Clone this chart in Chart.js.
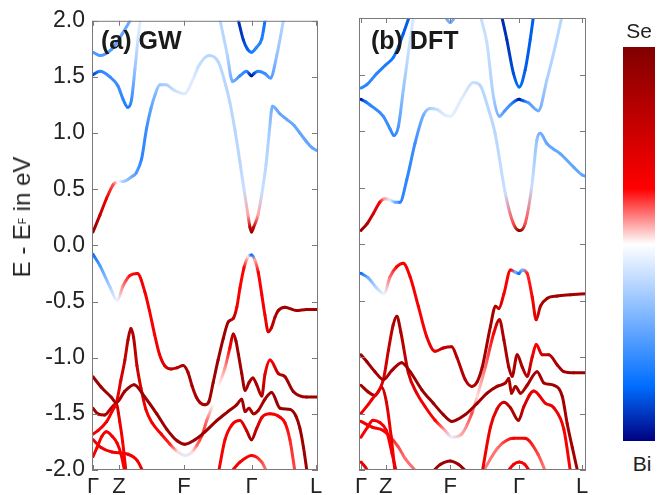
<!DOCTYPE html>
<html>
<head>
<meta charset="utf-8">
<script src="https://cdn.jsdelivr.net/npm/chart.js@4/dist/chart.umd.min.js"></script>
<style>
  body { margin: 0; background: #fff; width: 667px; height: 495px; position: relative; overflow: hidden;
         font-family: 'Liberation Sans', Arial, Helvetica, sans-serif; color: #222; }
  canvas { position: absolute; top: 0; }
  #gw { left: 0; }
  #dft { left: 330px; }
  .tag { position: absolute; top: 28px; font-weight: bold; font-size: 25px; line-height: 1; color: #1a1a1a; white-space: nowrap; }
  #ytitle { position: absolute; left: 22px; top: 217px; transform: translate(-50%, -50%) rotate(-90deg);
            font-size: 24px; line-height: 1; white-space: nowrap; }
  #ytitle sub { font-size: 10px; vertical-align: 4px; }
  #cbar { position: absolute; left: 623px; top: 47px; width: 32px; height: 394px; }
  .cblab { position: absolute; font-size: 21px; line-height: 1; transform: translateX(-50%); }
</style>
</head>
<body>
<canvas id="gw" width="330" height="495"></canvas>
<canvas id="dft" width="270" height="495"></canvas>
<div id="ytitle">E - E<sub>F</sub> in eV</div>
<div class="tag" style="left:101px">(a) GW</div>
<div class="tag" style="left:371px">(b) DFT</div>
<div id="cbar"></div>
<div class="cblab" style="left:639px; top:20px">Se</div>
<div class="cblab" style="left:642px; top:453px">Bi</div>
<script>
// k-path labels and positions (fraction of the Γ-L path length)
const kLabels = ['Γ', 'Z', 'F', 'Γ', 'L'];
const kTicksGW = [0, 0.117, 0.408, 0.711, 1];
const kTicksDFT = [0, 0.112, 0.403, 0.715, 1];

// projection colour map: 0 = Bi, 1 = Se
const cmapStops = [
  [0.00, [0, 0, 128]],
  [0.14, [0, 110, 255]],
  [0.50, [255, 255, 255]],
  [0.64, [255, 0, 0]],
  [1.00, [128, 0, 0]]
];

// bands as [k, E (eV), Se weight]
// ---- (a) GW ----
const gwC1 = [[0.000,0.12,0.95],[0.031,0.27,0.8],[0.061,0.42,0.7],[0.090,0.54,0.6],[0.112,0.57,0.5],[0.135,0.57,0.38],
  [0.173,0.61,0.3],[0.195,0.65,0.25],[0.218,0.77,0.2],[0.240,1.04,0.22],[0.260,1.22,0.27],[0.278,1.34,0.32],[0.300,1.43,0.36],
  [0.327,1.43,0.38],[0.365,1.38,0.42],[0.410,1.35,0.45],[0.449,1.48,0.45],[0.472,1.59,0.42],[0.520,1.69,0.4],[0.563,1.63,0.4],
  [0.596,1.42,0.4],[0.614,1.27,0.4],[0.637,1.02,0.4],[0.659,0.74,0.4],[0.677,0.50,0.42],[0.695,0.27,0.55],[0.704,0.16,0.8],
  [0.711,0.12,0.95],[0.720,0.16,0.8],[0.740,0.27,0.55],[0.758,0.47,0.42],[0.776,0.72,0.4],[0.789,0.98,0.38],[0.805,1.24,0.3],
  [0.839,1.17,0.28],[0.870,1.12,0.28],[0.901,1.07,0.28],[0.928,1.00,0.28],[0.955,0.93,0.28],[0.982,0.87,0.28],[1.009,0.84,0.28]];
const gwC2 = [[0.000,1.52,0.08],[0.031,1.55,0.2],[0.076,1.50,0.22],[0.112,1.42,0.22],[0.135,1.30,0.2],[0.156,1.23,0.18],
  [0.173,1.30,0.22],[0.188,1.57,0.35],[0.203,1.86,0.44],[0.215,2.05,0.46]];
const gwC3 = [[0.000,1.72,0.25],[0.031,1.69,0.25],[0.085,1.75,0.25],[0.130,1.88,0.28],[0.180,2.05,0.3]];
const gwC4 = [[0.565,2.05,0.4],[0.600,1.72,0.4],[0.626,1.46,0.3],[0.659,1.51,0.22],[0.689,1.55,0.2],[0.700,1.53,0.1],
  [0.711,1.51,0.02],[0.722,1.53,0.1],[0.740,1.55,0.2],[0.771,1.53,0.22],[0.796,1.49,0.25],[0.824,1.69,0.35],[0.858,2.05,0.4]];
const gwC5 = [[0.650,2.02,0.05],[0.674,1.83,0.08],[0.692,1.75,0.12],[0.711,1.72,0.18],[0.732,1.76,0.2],[0.757,1.84,0.18],[0.773,2.02,0.15]];

const gwV1 = [[0.000,-0.08,0.15],[0.031,-0.18,0.25],[0.076,-0.37,0.38],[0.109,-0.49,0.47],[0.135,-0.36,0.57],[0.165,-0.27,0.63],
  [0.199,-0.25,0.66],[0.232,-0.41,0.66],[0.253,-0.58,0.66],[0.277,-0.80,0.66],[0.298,-0.97,0.68],[0.321,-1.07,0.74],[0.351,-1.10,0.82],
  [0.377,-1.09,0.85],[0.404,-1.07,0.87],[0.426,-1.13,0.88],[0.444,-1.25,0.88],[0.463,-1.35,0.88],[0.480,-1.40,0.88],[0.502,-1.42,0.88],
  [0.520,-1.39,0.9],[0.539,-1.22,0.9],[0.561,-1.02,0.92],[0.584,-0.83,0.92],[0.607,-0.68,0.9],[0.629,-0.65,0.82],[0.645,-0.55,0.68],
  [0.659,-0.38,0.65],[0.677,-0.20,0.64],[0.696,-0.10,0.52],[0.711,-0.085,0.15],[0.726,-0.13,0.55],[0.741,-0.24,0.64],[0.757,-0.44,0.65],
  [0.771,-0.62,0.66],[0.786,-0.77,0.72],[0.801,-0.73,0.82],[0.816,-0.64,0.86],[0.831,-0.58,0.9],[0.861,-0.55,0.9],[0.913,-0.58,0.9],
  [0.958,-0.57,0.9],[1.009,-0.57,0.9]];
const gwV2 = [[0.000,-1.17,0.92],[0.036,-1.26,0.92],[0.081,-1.35,0.9],[0.105,-1.40,0.88],[0.142,-1.30,0.9],[0.184,-1.24,0.92],
  [0.232,-1.35,0.92],[0.286,-1.50,0.92],[0.332,-1.64,0.92],[0.377,-1.74,0.92],[0.411,-1.77,0.92],[0.457,-1.73,0.92],[0.502,-1.66,0.92],
  [0.555,-1.56,0.92],[0.605,-1.48,0.92],[0.644,-1.42,0.92],[0.667,-1.37,0.9],[0.682,-1.48,0.88],[0.700,-1.45,0.88],[0.719,-1.50,0.88],
  [0.741,-1.47,0.88],[0.771,-1.37,0.9],[0.801,-1.31,0.92],[0.839,-1.45,0.92],[0.883,-1.46,0.92],[0.910,-1.52,0.92],[0.928,-1.63,0.92],
  [0.944,-1.80,0.92],[0.960,-2.02,0.9]];
const gwV3 = [[0.000,-1.68,0.68],[0.022,-1.65,0.66],[0.061,-1.57,0.66],[0.085,-1.48,0.66],[0.105,-1.40,0.68],[0.125,-1.20,0.74],
  [0.143,-1.02,0.8],[0.157,-0.84,0.85],[0.170,-0.74,0.88],[0.182,-0.82,0.86],[0.197,-1.07,0.8],[0.215,-1.27,0.74],[0.237,-1.46,0.68],
  [0.265,-1.58,0.66],[0.306,-1.68,0.65],[0.345,-1.77,0.62],[0.381,-1.84,0.52],[0.413,-1.87,0.45],[0.444,-1.84,0.52],[0.466,-1.78,0.58],
  [0.489,-1.69,0.62],[0.510,-1.56,0.58],[0.539,-1.41,0.5],[0.562,-1.26,0.5],[0.592,-1.09,0.56],[0.614,-0.91,0.64],[0.629,-0.79,0.85],
  [0.641,-0.85,0.9],[0.652,-0.97,0.9],[0.667,-1.14,0.9],[0.682,-1.29,0.9],[0.700,-1.22,0.88],[0.717,-1.18,0.88],[0.734,-1.24,0.88],
  [0.757,-1.34,0.86],[0.771,-1.15,0.74],[0.794,-1.02,0.64],[0.831,-1.14,0.82],[0.861,-1.17,0.88],[0.898,-1.30,0.92],[0.958,-1.35,0.92],
  [1.009,-1.35,0.92]];
const gwV4 = [[0.000,-1.45,0.9],[0.022,-1.50,0.9],[0.052,-1.51,0.88],[0.081,-1.45,0.85],[0.104,-1.41,0.8],[0.120,-1.57,0.7],
  [0.133,-1.75,0.66],[0.148,-2.02,0.66]];
const gwV5 = [[0.000,-1.88,0.66],[0.018,-1.80,0.66],[0.040,-1.70,0.66],[0.060,-1.66,0.66],[0.086,-1.70,0.66],[0.108,-1.76,0.66],
  [0.126,-1.86,0.66],[0.143,-2.02,0.66]];
const gwV6 = [[0.000,-1.73,0.68],[0.036,-1.80,0.68],[0.085,-1.84,0.68],[0.157,-1.86,0.68],[0.200,-1.92,0.68],[0.225,-2.02,0.68]];
const gwV7 = [[0.563,-2.02,0.66],[0.592,-1.73,0.66],[0.622,-1.60,0.66],[0.659,-1.56,0.7],[0.689,-1.65,0.78],[0.711,-1.73,0.92],
  [0.734,-1.63,0.78],[0.758,-1.53,0.7],[0.794,-1.50,0.66],[0.839,-1.53,0.66],[0.861,-1.58,0.65],[0.883,-1.73,0.62],[0.906,-2.02,0.6]];
const gwV8 = [[0.618,-2.02,0.66],[0.659,-1.93,0.66],[0.711,-1.87,0.66],[0.757,-1.93,0.6],[0.780,-2.02,0.57]];

// ---- (b) DFT ----
const dftC1 = [[0.000,0.12,0.95],[0.028,0.18,0.85],[0.056,0.27,0.75],[0.085,0.37,0.65],[0.108,0.40,0.55],[0.131,0.39,0.45],
  [0.155,0.37,0.3],[0.176,0.37,0.2],[0.207,0.57,0.2],[0.244,0.89,0.22],[0.282,1.14,0.3],[0.313,1.20,0.38],[0.345,1.19,0.42],
  [0.380,1.14,0.45],[0.403,1.13,0.46],[0.456,1.29,0.45],[0.508,1.43,0.42],[0.540,1.40,0.4],[0.575,1.20,0.4],[0.606,0.98,0.4],
  [0.652,0.45,0.42],[0.689,0.18,0.6],[0.715,0.12,0.95],[0.742,0.18,0.6],[0.772,0.51,0.42],[0.795,0.92,0.35],[0.810,0.98,0.3],
  [0.840,0.89,0.28],[0.870,0.84,0.28],[0.900,0.80,0.28],[0.961,0.68,0.28],[1.000,0.61,0.28],[1.017,0.60,0.28]];
const dftC2 = [[0.000,1.28,0.03],[0.020,1.26,0.15],[0.041,1.23,0.2],[0.101,1.13,0.22],[0.131,1.02,0.22],[0.149,0.96,0.2],
  [0.169,1.04,0.25],[0.191,1.36,0.35],[0.214,1.69,0.42],[0.240,2.05,0.45]];
const dftC3 = [[0.000,1.38,0.2],[0.026,1.41,0.2],[0.072,1.51,0.2],[0.109,1.58,0.18],[0.146,1.65,0.16],[0.170,1.75,0.14],
  [0.191,1.86,0.12],[0.225,2.05,0.12]];
const dftC4 = [[0.535,2.05,0.42],[0.569,1.78,0.42],[0.599,1.30,0.38],[0.626,1.13,0.3],[0.650,1.18,0.25],[0.674,1.23,0.22],
  [0.700,1.27,0.12],[0.715,1.28,0.02],[0.730,1.27,0.12],[0.757,1.25,0.25],[0.802,1.18,0.3],[0.840,1.45,0.38],[0.878,1.75,0.4],
  [0.912,2.05,0.4]];
const dftC5 = [[0.632,2.05,0.05],[0.659,1.81,0.06],[0.689,1.51,0.1],[0.715,1.39,0.14],[0.742,1.54,0.12],[0.765,1.81,0.12],[0.782,2.05,0.12]];
const dftC6 = [[0.370,2.05,0.3],[0.403,1.96,0.3],[0.436,2.05,0.3]];

const dftV1 = [[0.000,-0.26,0.15],[0.033,-0.30,0.3],[0.071,-0.39,0.4],[0.105,-0.44,0.47],[0.131,-0.29,0.58],[0.162,-0.20,0.64],
  [0.191,-0.17,0.66],[0.222,-0.29,0.66],[0.259,-0.55,0.66],[0.297,-0.82,0.66],[0.335,-0.95,0.72],[0.372,-0.92,0.82],[0.410,-0.91,0.85],
  [0.433,-1.00,0.85],[0.471,-1.20,0.85],[0.501,-1.26,0.85],[0.525,-1.22,0.88],[0.548,-1.09,0.9],[0.585,-0.73,0.9],[0.608,-0.55,0.88],
  [0.623,-0.57,0.78],[0.646,-0.44,0.66],[0.676,-0.23,0.64],[0.698,-0.25,0.3],[0.714,-0.26,0.15],[0.729,-0.23,0.3],[0.751,-0.26,0.62],
  [0.774,-0.47,0.65],[0.792,-0.67,0.72],[0.811,-0.55,0.85],[0.842,-0.48,0.9],[0.887,-0.46,0.9],[0.947,-0.45,0.9],[1.017,-0.44,0.9]];
const dftV2 = [[0.000,-0.98,0.92],[0.026,-1.04,0.92],[0.063,-1.13,0.9],[0.101,-1.20,0.88],[0.139,-1.12,0.88],[0.184,-1.05,0.9],
  [0.222,-1.13,0.92],[0.275,-1.29,0.92],[0.327,-1.41,0.92],[0.372,-1.51,0.92],[0.410,-1.57,0.92],[0.471,-1.51,0.92],[0.525,-1.41,0.92],
  [0.570,-1.32,0.92],[0.615,-1.26,0.9],[0.653,-1.23,0.88],[0.668,-1.19,0.88],[0.680,-1.32,0.88],[0.698,-1.26,0.88],[0.721,-1.32,0.88],
  [0.751,-1.25,0.88],[0.796,-1.13,0.88],[0.827,-1.23,0.9],[0.872,-1.25,0.9],[0.910,-1.35,0.9],[0.932,-1.59,0.9],[0.955,-1.80,0.9],
  [0.980,-2.02,0.9]];
const dftV3 = [[0.000,-1.50,0.68],[0.048,-1.38,0.68],[0.101,-1.20,0.74],[0.124,-0.94,0.8],[0.145,-0.72,0.86],[0.162,-0.64,0.9],
  [0.180,-0.78,0.86],[0.214,-1.14,0.78],[0.252,-1.32,0.7],[0.290,-1.44,0.66],[0.335,-1.56,0.64],[0.380,-1.65,0.55],[0.410,-1.71,0.46],
  [0.456,-1.68,0.55],[0.501,-1.50,0.6],[0.525,-1.35,0.52],[0.562,-1.09,0.58],[0.600,-0.79,0.64],[0.626,-0.67,0.85],[0.646,-0.85,0.88],
  [0.668,-1.09,0.88],[0.683,-1.17,0.88],[0.706,-0.98,0.88],[0.729,-1.09,0.88],[0.751,-1.17,0.86],[0.774,-1.00,0.72],[0.792,-0.89,0.64],
  [0.819,-0.98,0.78],[0.849,-0.98,0.85],[0.887,-1.07,0.88],[0.917,-1.13,0.9],[0.962,-1.14,0.92],[1.017,-1.14,0.92]];
const dftV4 = [[0.000,-1.25,0.9],[0.033,-1.31,0.9],[0.063,-1.34,0.88],[0.094,-1.27,0.82],[0.115,-1.40,0.74],[0.136,-1.70,0.68],[0.154,-2.02,0.68]];
const dftV5 = [[0.000,-1.71,0.66],[0.030,-1.62,0.66],[0.054,-1.56,0.66],[0.085,-1.58,0.66],[0.115,-1.65,0.66],[0.140,-1.85,0.66],[0.160,-2.02,0.66]];
const dftV6 = [[0.000,-1.57,0.68],[0.050,-1.62,0.68],[0.100,-1.65,0.66],[0.167,-1.79,0.6],[0.200,-1.90,0.58],[0.253,-2.02,0.58]];
const dftV7 = [[0.000,-1.93,0.7],[0.018,-1.97,0.7],[0.035,-2.02,0.7]];
const dftV8 = [[0.320,-2.02,0.92],[0.360,-1.95,0.92],[0.403,-1.92,0.92],[0.440,-1.95,0.92],[0.480,-2.02,0.92]];
const dftV9 = [[0.548,-2.02,0.68],[0.585,-1.62,0.68],[0.615,-1.46,0.72],[0.646,-1.40,0.78],[0.676,-1.45,0.85],[0.712,-1.56,0.9],
  [0.736,-1.44,0.78],[0.781,-1.30,0.7],[0.834,-1.41,0.7],[0.872,-1.45,0.68],[0.917,-1.64,0.66],[0.947,-2.02,0.66]];
const dftV10 = [[0.550,-2.02,0.57],[0.620,-1.80,0.58],[0.690,-1.72,0.66],[0.740,-1.72,0.68],[0.800,-1.86,0.6],[0.835,-2.02,0.57]];
const dftV11 = [[0.660,-2.02,0.66],[0.690,-1.95,0.66],[0.715,-1.93,0.66],[0.740,-1.95,0.66],[0.765,-2.02,0.66]];

const gwBands = [gwV1, gwV2, gwV3, gwV4, gwV5, gwV6, gwV7, gwV8, gwC1, gwC2, gwC3, gwC4, gwC5];
const dftBands = [dftV1, dftV2, dftV3, dftV4, dftV5, dftV6, dftV7, dftV8, dftV9, dftV10, dftV11,
                  dftC1, dftC2, dftC3, dftC4, dftC5, dftC6];

function weightColor(w) {
  for (let i = 1; i < cmapStops.length; i++) {
    const [w0, c0] = cmapStops[i - 1];
    const [w1, c1] = cmapStops[i];
    if (w <= w1) {
      const t = (w - w0) / (w1 - w0);
      return c0.map((v, j) => v + (c1[j] - v) * t);
    }
  }
  return cmapStops[cmapStops.length - 1][1];
}
function rgb(c) {
  return 'rgb(' + Math.round(c[0]) + ',' + Math.round(c[1]) + ',' + Math.round(c[2]) + ')';
}

// colour bar
document.getElementById('cbar').style.background = 'linear-gradient(to bottom, ' +
  cmapStops.slice().reverse().map(s => rgb(s[1]) + ' ' + ((1 - s[0]) * 100).toFixed(1) + '%').join(', ') + ')';

// each segment gets a gradient between the weights of its two end points
function segColor(sc) {
  const pts = sc.chart.data.datasets[sc.datasetIndex].data;
  const w0 = pts[sc.p0DataIndex].w, w1 = pts[sc.p1DataIndex].w;
  const g = sc.chart.ctx.createLinearGradient(sc.p0.x, sc.p0.y, sc.p1.x, sc.p1.y);
  g.addColorStop(0, rgb(weightColor(w0)));
  g.addColorStop(1, rgb(weightColor(w1)));
  return g;
}

// box + inward tick marks on all four sides
const framePlugin = {
  id: 'frame',
  afterDatasetsDraw(chart) {
    const { ctx, chartArea: a, scales: { x, y } } = chart;
    ctx.save();
    ctx.strokeStyle = '#7a7a7a';
    ctx.lineWidth = 1;
    ctx.strokeRect(a.left + 0.5, a.top + 0.5, a.right - a.left - 1, a.bottom - a.top - 1);
    ctx.beginPath();
    y.ticks.forEach(t => {
      const py = Math.round(y.getPixelForValue(t.value)) + 0.5;
      ctx.moveTo(a.left, py); ctx.lineTo(a.left + 6, py);
      ctx.moveTo(a.right, py); ctx.lineTo(a.right - 6, py);
    });
    x.ticks.forEach(t => {
      const px = Math.round(x.getPixelForValue(t.value)) + 0.5;
      ctx.moveTo(px, a.bottom); ctx.lineTo(px, a.bottom - 5);
      ctx.moveTo(px, a.top); ctx.lineTo(px, a.top + 5);
    });
    ctx.stroke();
    ctx.restore();
  }
};

Chart.defaults.font.family = "'Liberation Sans', Arial, Helvetica, sans-serif";
Chart.defaults.color = '#222';

function makePanel(id, bands, kTicks, kRange, yWidth, padRight, showY) {
  return new Chart(document.getElementById(id), {
    type: 'line',
    data: {
      datasets: bands.map(b => ({
        data: b.map(p => ({ x: p[0], y: p[1], w: p[2] })),
        borderColor: rgb(weightColor(b[0][2])),
        borderWidth: 3,
        pointRadius: 0,
        cubicInterpolationMode: 'monotone',
        borderCapStyle: 'round',
        borderJoinStyle: 'round',
        clip: 0,
        segment: { borderColor: segColor }
      }))
    },
    options: {
      responsive: false,
      animation: false,
      devicePixelRatio: 1,
      events: [],
      layout: { padding: { top: 18, right: padRight, left: 0, bottom: 0 } },
      plugins: { legend: { display: false }, tooltip: { enabled: false } },
      scales: {
        x: {
          type: 'linear', min: kRange[0], max: kRange[1],
          grid: { display: false, drawTicks: false }, border: { display: false },
          afterBuildTicks: s => { s.ticks = kTicks.map(v => ({ value: v })); },
          afterFit: s => { s.height = 25; },
          ticks: { autoSkip: false, maxRotation: 0, padding: 4, font: { size: 22 },
                   callback: (v, i) => kLabels[i] }
        },
        y: {
          min: -2, max: 2,
          grid: { display: false, drawTicks: false }, border: { display: false },
          afterFit: s => { s.width = yWidth; },
          ticks: { display: showY, stepSize: 0.5, padding: 7, font: { size: 23 },
                   callback: v => v.toFixed(1) }
        }
      }
    },
    plugins: [framePlugin]
  });
}

makePanel('gw', gwBands, kTicksGW, [-0.0045, 1.009], 92, 12, true);
makePanel('dft', dftBands, kTicksDFT, [-0.009, 1.017], 29, 14, false);
</script>
</body>
</html>
